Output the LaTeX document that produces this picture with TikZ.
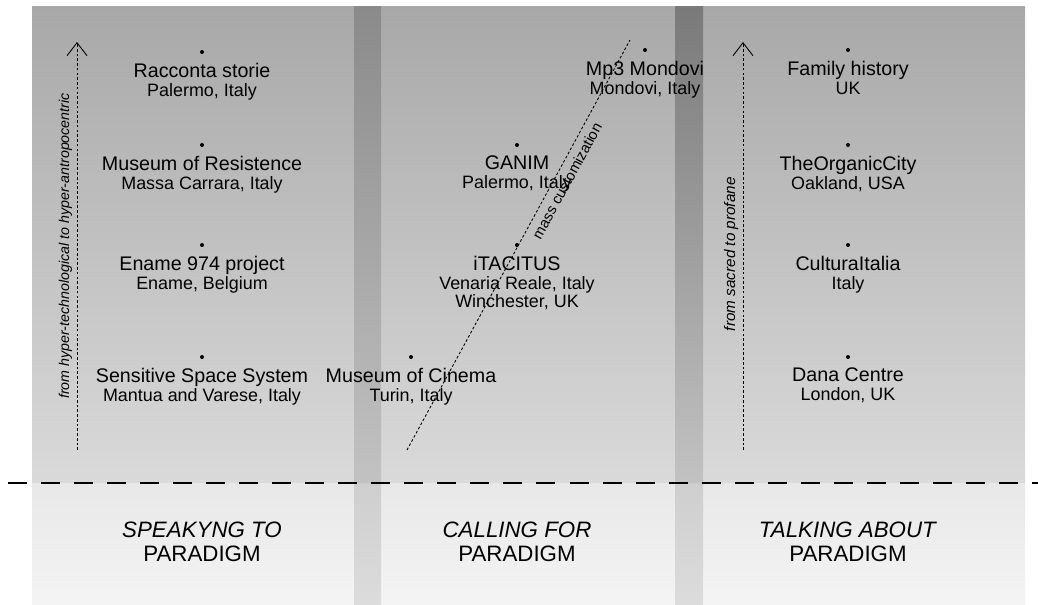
\documentclass[tikz,border=0pt]{standalone}
\usepackage{fontspec}
\setmainfont{Liberation Sans}
\usepackage{tikz}
\usetikzlibrary{arrows.meta,positioning}

\definecolor{panetop}{HTML}{A8A8A8}
\definecolor{panemid}{HTML}{DADADA}
\definecolor{panelow}{HTML}{E8E8E8}
\definecolor{panebot}{HTML}{F4F4F4}
\definecolor{bartop}{HTML}{8A8A8A}
\definecolor{barmid}{HTML}{C2C2C2}
\definecolor{barbot}{HTML}{DCDCDC}

\newcommand{\siteat}[1]{{\fontsize{10.2}{10.6}\selectfont #1}}

\begin{document}
\begin{tikzpicture}[
  x=0.02cm, y=-0.02cm,
  node distance=1.7mm,
  dot/.style={circle, fill=black, inner sep=0pt, minimum size=0.8mm},
  item/.style={align=center, inner sep=0pt, font=\fontsize{11.2}{10.6}\selectfont},
  axis/.style={-{Straight Barb[length=2.6mm,width=4mm]}, line width=0.5pt, dash pattern=on 1.5pt off 1.2pt},
  axislabel/.style={font=\fontsize{8.7}{10}\selectfont\itshape, inner sep=2.5pt},
  paradigm/.style={align=center, font=\fontsize{12.7}{13.4}\selectfont}
]
\useasboundingbox (0,0) rectangle (1038,605);

% background panel and bars
\shade[top color=panetop, bottom color=panemid] (32,6) rectangle (1025,483);
\shade[top color=panelow, bottom color=panebot] (32,483) rectangle (1025,605);
\shade[top color=bartop, bottom color=barmid] (354,6) rectangle (381,483);
\shade[top color=barmid!80!white, bottom color=barbot] (354,483) rectangle (381,605);
\shade[top color=bartop!88!black, bottom color=barmid] (675,6) rectangle (703,483);
\shade[top color=barmid!80!white, bottom color=barbot] (675,483) rectangle (703,605);

% speaking to
\node[dot] (racdot) at (202,52) {};
\node[item, below=of racdot] (rac) {Racconta storie\\\siteat{Palermo, Italy}};
\node[dot] (resdot) at (202,145) {};
\node[item, below=of resdot] (res) {Museum of Resistence\\\siteat{Massa Carrara, Italy}};
\node[dot] (enamedot) at (202,245) {};
\node[item, below=of enamedot] (ename) {Ename 974 project\\\siteat{Ename, Belgium}};
\node[dot] (sssdot) at (202,357) {};
\node[item, below=of sssdot] (sss) {Sensitive Space System\\\siteat{Mantua and Varese, Italy}};

% calling for
\node[dot] (mp3dot) at (645,50) {};
\node[item, below=of mp3dot] (mp3) {Mp3 Mondovi\\\siteat{Mondovi, Italy}};
\node[dot] (ganimdot) at (517,145) {};
\node[item, below=of ganimdot] (ganim) {GANIM\\\siteat{Palermo, Italy}};
\node[dot] (itacdot) at (517,245) {};
\node[item, below=of itacdot] (itac) {iTACITUS\\\siteat{Venaria Reale, Italy}\\\siteat{Winchester, UK}};
\node[dot] (cinemadot) at (411,357) {};
\node[item, below=of cinemadot] (cinema) {Museum of Cinema\\\siteat{Turin, Italy}};

% talking about
\node[dot] (familydot) at (848,50) {};
\node[item, below=of familydot] (family) {Family history\\\siteat{UK}};
\node[dot] (organicdot) at (848,145) {};
\node[item, below=of organicdot] (organic) {TheOrganicCity\\\siteat{Oakland, USA}};
\node[dot] (culturadot) at (848,245) {};
\node[item, below=of culturadot] (cultura) {CulturaItalia\\\siteat{Italy}};
\node[dot] (danadot) at (848,357) {};
\node[item, below=of danadot] (dana) {Dana Centre\\\siteat{London, UK}};

% axes
\coordinate (htlow) at (77,450);
\coordinate (hthigh) at (77,42);
\coordinate (splow) at (743,450);
\coordinate (sphigh) at (743,42);
\coordinate (mclow) at (407,450);
\coordinate (mchigh) at (630,40);
\draw[axis] (htlow) -- node[axislabel, font=\fontsize{8.1}{10}\selectfont\itshape, sloped, above] {from hyper-technological to hyper-antropocentric} (hthigh);
\draw[axis] (splow) -- node[axislabel, sloped, above, pos=0.48] {from sacred to profane} (sphigh);
\draw[line width=0.5pt, dash pattern=on 1.5pt off 1.2pt] (mclow) -- node[axislabel, font=\fontsize{8.4}{10}\selectfont, inner sep=3.5pt, sloped, below, pos=0.67] {mass customization} (mchigh);

% divide
\coordinate (divl) at (8,483);
\coordinate (divr) at (1038,483);
\draw[line width=0.8pt, dash pattern=on 10.8pt off 8pt] (divl) -- (divr);

% paradigms
\node[paradigm] (speak) at (202,542) {\textit{SPEAKYNG TO}\\PARADIGM};
\node[paradigm] (call) at (517,542) {\textit{CALLING FOR}\\PARADIGM};
\node[paradigm] (talk) at (848,542) {\textit{TALKING ABOUT}\\PARADIGM};
\end{tikzpicture}
\end{document}
